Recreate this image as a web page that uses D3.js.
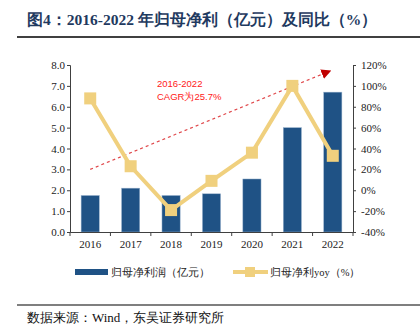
<!DOCTYPE html>
<html><head><meta charset="utf-8">
<script src="https://cdn.jsdelivr.net/npm/d3@7/dist/d3.min.js"></script>
<style>body{margin:0;background:#fff}svg{display:block}</style>
</head><body>
<svg id="c" width="420" height="329"></svg>
<script>
const categories = ["2016","2017","2018","2019","2020","2021","2022"];
const profit = [1.75, 2.1, 1.75, 1.83, 2.54, 5.0, 6.7];
const yoy = [88, 23, -19, 9, 36, 100, 33];
const leftTicks = [0,1,2,3,4,5,6,7,8];
const rightTicks = [-40,-20,0,20,40,60,80,100,120];
const trend = [{cat:"2016", off:0, v:3.0}, {cat:"2022", off:-0.15, v:7.65}];
const titleText = "图4：2016-2022 年归母净利（亿元）及同比（%）";
const sourceText = "数据来源：Wind，东吴证券研究所";
const cagrLines = ["2016-2022", "CAGR为25.7%"];
const legendLabels = ["归母净利润（亿元）", "归母净利yoy（%）"];

const svg = d3.select("#c");
const serif = "'Liberation Serif','Times New Roman',serif";
const barColor = "#1F5285", lineColor = "#F0D07E", axisColor = "#404040";
const L = 70, R = 353, T = 65, B = 232;

const x = d3.scaleBand().domain(categories).range([L, R]).paddingInner(0.55).paddingOuter(0.275);
const xb = d3.scaleBand().domain(categories).range([L, R]);
const yL = d3.scaleLinear().domain([0, 8]).range([B, T]);
const yR = d3.scaleLinear().domain([-40, 120]).range([B, T]);

// title
svg.append("text").attr("x", 27).attr("y", 25).text(titleText)
  .attr("font-family", serif).attr("font-weight", "bold").attr("font-size", 15.5).attr("fill", "#1F3A60");
svg.append("line").attr("x1", 17).attr("x2", 420).attr("y1", 37).attr("y2", 37).attr("stroke", "#000").attr("stroke-width", 1.5);

// bars
svg.append("g").selectAll("rect").data(categories).join("rect")
  .attr("x", d => x(d)).attr("width", x.bandwidth())
  .attr("y", (d,i) => yL(profit[i])).attr("height", (d,i) => B - yL(profit[i]))
  .attr("fill", barColor).attr("stroke", "#9DB5CF").attr("stroke-width", 0.5);

// axes
const gL = svg.append("g").attr("transform", `translate(${L},0)`)
  .call(d3.axisLeft(yL).tickValues(leftTicks).tickFormat(d3.format(".1f")).tickSizeOuter(0).tickSize(3));
const gR = svg.append("g").attr("transform", `translate(${R},0)`)
  .call(d3.axisRight(yR).tickValues(rightTicks).tickFormat(d => d + "%").tickSizeOuter(0).tickSize(3));
const gB = svg.append("g").attr("transform", `translate(0,${B})`)
  .call(d3.axisBottom(xb).tickSize(0).tickSizeOuter(0));
[gL, gR, gB].forEach(g => {
  g.selectAll("path,line").attr("stroke", axisColor);
  g.selectAll("text").attr("font-family", serif).attr("font-size", 11).attr("fill", "#222");
});
gL.selectAll("text").attr("x", -5);
gR.selectAll("text").attr("x", 8);
gB.selectAll("text").attr("dy", "1.2em");
// bottom boundary ticks
gB.selectAll("line.bt").data(categories.concat(["end"])).join("line").attr("class","bt")
  .attr("x1", (d,i) => i < categories.length ? xb(d) : R).attr("x2", (d,i) => i < categories.length ? xb(d) : R)
  .attr("y1", 0).attr("y2", 4).attr("stroke", axisColor);

// trend dashed arrow
const tx = t => xb(t.cat) + xb.bandwidth()/2 + t.off * xb.bandwidth();
const p0 = [tx(trend[0]), yL(trend[0].v)], p1 = [tx(trend[1]), yL(trend[1].v)];
svg.append("defs").append("marker").attr("id", "arr").attr("viewBox", "0 0 10 10")
  .attr("refX", 5).attr("refY", 5).attr("markerWidth", 10).attr("markerHeight", 10)
  .attr("markerUnits", "userSpaceOnUse").attr("orient", "auto")
  .append("path").attr("d", "M0,0L10,5L0,10Z").attr("fill", "#C00000");
svg.append("line").attr("x1", p0[0]).attr("y1", p0[1]).attr("x2", p1[0]).attr("y2", p1[1])
  .attr("stroke", "#E0484B").attr("stroke-width", 1.2).attr("stroke-dasharray", "3,3")
  .attr("marker-end", "url(#arr)");

// line
const line = d3.line().x((d,i) => x(categories[i]) + x.bandwidth()/2).y(d => yR(d));
svg.append("path").datum(yoy).attr("d", line).attr("fill", "none")
  .attr("stroke", lineColor).attr("stroke-width", 4).attr("stroke-linejoin", "round");
svg.append("g").selectAll("rect").data(yoy).join("rect")
  .attr("x", (d,i) => x(categories[i]) + x.bandwidth()/2 - 6).attr("y", d => yR(d) - 6)
  .attr("width", 12).attr("height", 12).attr("fill", lineColor);

// CAGR text
svg.append("g").selectAll("text").data(cagrLines).join("text")
  .attr("x", 157).attr("y", (d,i) => 87 + i*13).text(d => d)
  .attr("font-family", "'Liberation Sans',Arial,sans-serif").attr("font-size", 9.5).attr("fill", "#FF2020");

// legend
svg.append("rect").attr("x", 75).attr("y", 269).attr("width", 33).attr("height", 6).attr("fill", barColor);
svg.append("text").attr("x", 111).attr("y", 276).text(legendLabels[0])
  .attr("font-family", serif).attr("font-size", 10.5).attr("fill", "#222");
svg.append("line").attr("x1", 233).attr("x2", 268).attr("y1", 272).attr("y2", 272).attr("stroke", lineColor).attr("stroke-width", 4);
svg.append("rect").attr("x", 245).attr("y", 267).attr("width", 10).attr("height", 10).attr("fill", lineColor);
svg.append("text").attr("x", 270).attr("y", 276).text(legendLabels[1])
  .attr("font-family", serif).attr("font-size", 10.5).attr("fill", "#222");

// footer
svg.append("line").attr("x1", 17).attr("x2", 420).attr("y1", 305).attr("y2", 305).attr("stroke", "#000").attr("stroke-width", 1.2);
svg.append("text").attr("x", 27).attr("y", 322).text(sourceText)
  .attr("font-family", serif).attr("font-size", 13).attr("fill", "#111");
</script>
</body></html>
